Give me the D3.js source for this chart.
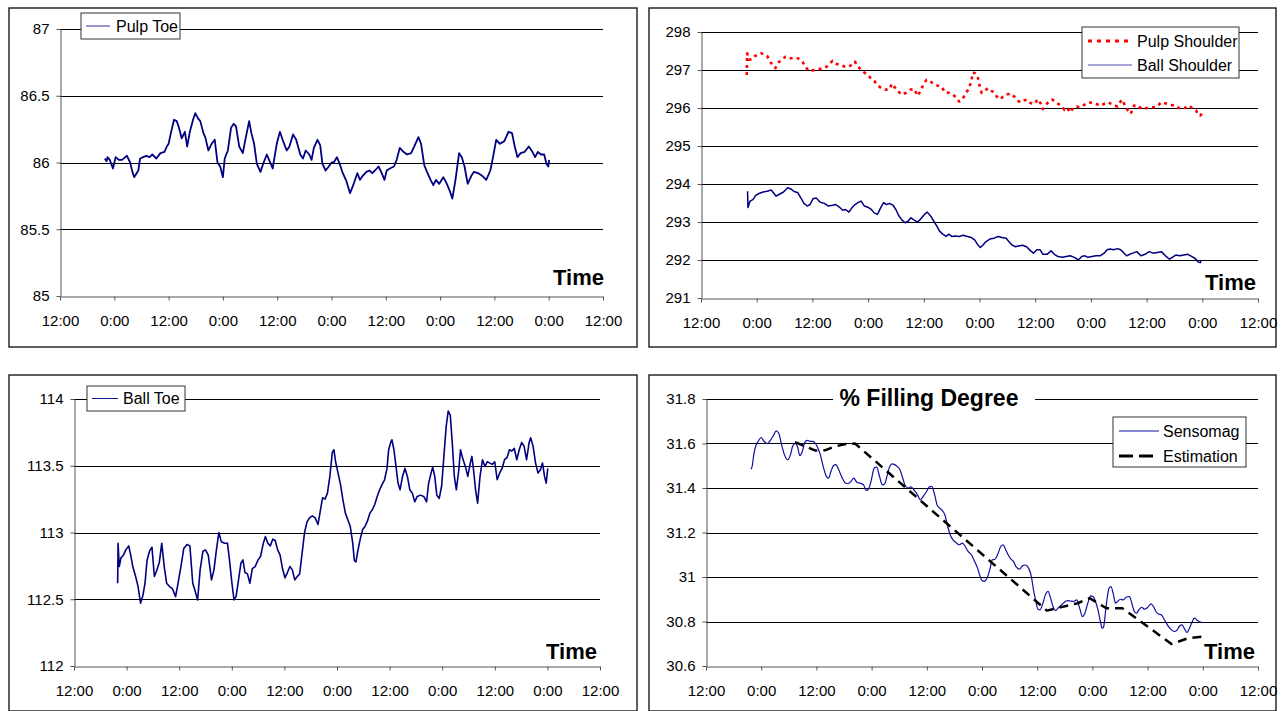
<!DOCTYPE html>
<html>
<head>
<meta charset="utf-8">
<script src="https://cdn.jsdelivr.net/npm/d3@7"></script>
<style>
  html, body { margin: 0; padding: 0; background: #fff; }
  svg { display: block; }
  text { font-family: "Liberation Sans", Arial, sans-serif; fill: #000; }
</style>
</head>
<body>
<svg id="chart" width="1282" height="711"></svg>
<script>
// ---- data: [hours after the first 12:00 mark, value] ----
const pulpToe = [[9.9,86.03],[10.3,86.01],[10.5,86.04],[11.0,86.02],[11.7,85.955],[12.3,86.04],[13.0,86.02],[13.7,86.02],[14.8,86.05],[15.5,86.00],[16.0,85.93],[16.4,85.89],[17.3,85.94],[17.7,86.03],[18.4,86.04],[19.1,86.05],[19.8,86.04],[20.4,86.06],[21.3,86.03],[22.2,86.07],[23.1,86.08],[23.6,86.12],[24.0,86.14],[24.5,86.22],[25.2,86.32],[25.8,86.31],[26.3,86.26],[26.9,86.18],[27.6,86.23],[28.1,86.12],[28.7,86.23],[29.4,86.32],[29.9,86.37],[30.5,86.33],[31.0,86.31],[31.7,86.22],[32.1,86.19],[32.8,86.09],[33.5,86.14],[34.2,86.17],[34.8,86.00],[35.4,85.97],[36.0,85.89],[36.4,86.03],[37.1,86.09],[37.8,86.26],[38.4,86.29],[38.9,86.27],[39.6,86.12],[40.4,86.07],[40.9,86.16],[41.8,86.31],[42.3,86.22],[42.9,86.14],[43.5,85.99],[44.3,85.93],[45.0,86.00],[45.7,86.06],[46.2,86.02],[47.0,85.955],[47.9,86.14],[48.6,86.23],[49.2,86.17],[50.1,86.09],[50.7,86.12],[51.5,86.21],[52.2,86.17],[53.1,86.06],[53.7,86.03],[54.3,86.09],[55.1,86.06],[55.6,86.02],[56.1,86.11],[56.9,86.17],[57.5,86.13],[58.0,85.99],[58.7,85.94],[59.4,85.97],[60.0,86.00],[60.5,86.00],[61.2,86.04],[61.8,85.99],[62.5,85.92],[63.3,85.86],[64.1,85.77],[64.8,85.83],[65.7,85.92],[66.3,85.87],[66.9,85.90],[67.7,85.93],[68.4,85.94],[69.0,85.92],[69.6,85.94],[70.4,85.97],[71.1,85.92],[71.7,85.87],[72.2,85.94],[72.9,85.955],[73.8,85.97],[74.4,86.02],[75.1,86.11],[75.9,86.08],[76.7,86.06],[77.6,86.07],[78.3,86.12],[79.2,86.19],[79.8,86.14],[80.5,85.98],[81.1,85.93],[81.9,85.87],[82.5,85.83],[83.1,85.87],[83.8,85.84],[84.7,85.89],[85.5,85.84],[86.1,85.79],[86.7,85.73],[87.4,85.87],[88.2,86.07],[88.8,86.04],[89.4,85.97],[90.1,85.84],[90.9,85.90],[91.5,85.93],[92.4,85.92],[93.3,85.90],[94.2,85.87],[95.1,85.94],[95.7,86.04],[96.4,86.17],[97.2,86.14],[98.2,86.16],[99.1,86.23],[99.9,86.22],[100.5,86.12],[101.1,86.04],[101.8,86.07],[102.7,86.08],[103.6,86.12],[104.4,86.08],[105.0,86.04],[105.6,86.08],[106.3,86.06],[107.0,86.06],[107.5,85.99],[107.9,85.97],[108.1,86.02]];

const pulpShoulder = [[9.86,296.87],[9.94,297.44],[10.3,297.27],[10.91,297.28],[11.62,297.37],[12.32,297.40],[12.94,297.44],[13.55,297.41],[14.26,297.37],[14.87,297.22],[15.4,297.13],[16.02,297.05],[16.72,297.20],[17.34,297.27],[18.22,297.35],[19.1,297.31],[19.98,297.31],[20.86,297.31],[21.74,297.24],[22.44,297.11],[23.06,296.99],[23.94,296.99],[24.82,297.01],[25.7,297.03],[26.58,297.05],[27.28,297.11],[28.34,297.24],[29.22,297.16],[30.1,297.13],[30.98,297.09],[31.86,297.09],[32.74,297.16],[33.18,297.22],[33.62,297.11],[34.32,297.03],[35.2,296.93],[36.08,296.85],[36.7,296.76],[37.4,296.70],[38.19,296.58],[38.9,296.52],[39.78,296.48],[40.66,296.50],[41.1,296.64],[41.71,296.55],[42.42,296.44],[43.3,296.35],[44.18,296.40],[45.06,296.48],[45.94,296.50],[46.64,296.32],[47.26,296.44],[47.87,296.61],[48.58,296.74],[49.28,296.72],[49.9,296.65],[50.51,296.61],[51.22,296.58],[51.92,296.55],[52.54,296.41],[53.42,296.40],[54.3,296.35],[54.91,296.28],[55.62,296.17],[56.32,296.23],[56.94,296.37],[57.55,296.48],[58.26,296.70],[58.52,296.93],[58.96,296.92],[59.58,296.85],[60.02,296.58],[60.46,296.40],[61.07,296.44],[61.78,296.52],[62.48,296.46],[63.1,296.41],[63.71,296.30],[64.42,296.23],[65.12,296.30],[65.74,296.35],[66.62,296.38],[67.5,296.30],[68.11,296.20],[68.82,296.15],[69.52,296.20],[70.14,296.22],[71.02,296.13],[71.9,296.11],[72.51,296.23],[73.22,296.11],[73.66,295.97],[74.27,296.08],[74.98,296.17],[75.68,296.22],[76.3,296.17],[76.91,296.11],[77.62,296.06],[78.32,295.95],[78.94,296.00],[79.55,295.88],[80.26,296.02],[80.96,296.04],[81.58,296.02],[82.19,296.06],[82.9,296.11],[83.6,296.15],[84.22,296.13],[85.1,296.11],[85.98,296.06],[86.86,296.11],[87.74,296.15],[88.35,296.11],[89.06,296.06],[89.76,296.04],[90.38,296.17],[90.82,296.22],[91.26,296.08],[91.87,295.95],[92.58,295.85],[93.28,296.06],[93.9,296.08],[94.51,296.02],[95.22,295.97],[96.1,296.00],[96.98,296.02],[97.86,296.02],[98.56,296.08],[99.18,296.15],[99.79,296.13],[100.5,296.11],[101.38,296.08],[102.26,296.06],[102.96,296.00],[103.84,296.02],[104.46,296.00],[105.07,296.06],[105.6,296.02],[106.22,295.97],[106.66,295.94],[107.1,295.82],[107.54,295.80],[107.98,295.86]];

const ballShoulder = [[10.03,293.81],[10.12,293.38],[10.56,293.55],[11.18,293.59],[11.79,293.70],[12.49,293.75],[13.37,293.79],[14.25,293.81],[15.13,293.84],[16.19,293.68],[16.9,293.73],[17.78,293.79],[18.66,293.90],[19.36,293.87],[19.98,293.81],[20.86,293.77],[21.47,293.64],[22.18,293.49],[22.88,293.42],[23.5,293.46],[24.11,293.61],[24.82,293.63],[25.7,293.52],[26.58,293.49],[27.46,293.42],[28.34,293.44],[29.04,293.46],[29.92,293.38],[30.54,293.31],[31.15,293.33],[31.86,293.26],[32.56,293.38],[33.18,293.46],[33.79,293.51],[34.5,293.55],[35.2,293.42],[36.08,293.38],[36.7,293.33],[37.31,293.24],[38.02,293.20],[38.72,293.38],[39.34,293.51],[39.95,293.46],[40.66,293.49],[41.36,293.44],[41.98,293.33],[42.59,293.17],[43.3,293.05],[44.0,292.98],[44.62,293.02],[45.23,293.11],[45.94,293.05],[46.64,293.00],[47.26,293.07],[48.14,293.20],[48.75,293.26],[49.46,293.16],[50.16,293.02],[50.78,292.90],[51.39,292.76],[52.1,292.68],[52.8,292.62],[53.42,292.68],[54.03,292.62],[54.74,292.63],[55.62,292.62],[56.5,292.65],[57.38,292.62],[58.26,292.59],[58.96,292.53],[59.58,292.41],[60.19,292.33],[60.72,292.39],[61.34,292.48],[62.22,292.55],[63.1,292.57],[63.98,292.62],[64.86,292.59],[65.74,292.57],[66.35,292.48],[67.06,292.39],[67.76,292.35],[68.38,292.37],[69.26,292.39],[70.14,292.35],[71.02,292.24],[71.63,292.18],[72.34,292.27],[73.04,292.27],[73.66,292.15],[74.54,292.15],[75.42,292.24],[76.12,292.15],[76.91,292.09],[77.79,292.07],[78.67,292.09],[79.55,292.11],[80.43,292.07],[81.31,292.00],[82.02,292.09],[82.72,292.11],[83.34,292.07],[84.22,292.09],[85.1,292.11],[85.98,292.11],[86.86,292.18],[87.47,292.27],[88.18,292.29],[88.88,292.27],[89.76,292.30],[90.38,292.27],[90.99,292.20],[91.7,292.11],[92.4,292.15],[93.02,292.18],[93.9,292.22],[94.78,292.11],[95.66,292.15],[96.54,292.22],[97.42,292.18],[98.3,292.20],[99.18,292.22],[100.06,292.11],[100.94,292.02],[101.55,292.07],[102.26,292.13],[103.14,292.11],[104.02,292.13],[104.9,292.15],[105.78,292.09],[106.48,292.04],[107.1,291.95],[107.54,291.93],[107.8,292.00]];

const ballToe = [[9.96,112.62],[10.05,112.92],[10.33,112.745],[10.71,112.81],[11.27,112.83],[11.82,112.87],[12.48,112.90],[12.94,112.83],[13.41,112.745],[14.06,112.67],[14.62,112.595],[15.18,112.47],[15.73,112.53],[16.2,112.62],[16.66,112.79],[17.22,112.86],[17.78,112.89],[18.34,112.67],[18.81,112.71],[19.46,112.775],[20.02,112.92],[20.58,112.745],[21.13,112.62],[21.79,112.595],[22.44,112.58],[23.18,112.52],[23.74,112.62],[24.39,112.745],[25.04,112.88],[25.79,112.91],[26.44,112.90],[27.09,112.62],[27.65,112.56],[28.21,112.495],[28.77,112.72],[29.42,112.86],[29.98,112.87],[30.63,112.83],[31.37,112.645],[31.93,112.72],[32.49,112.87],[33.05,113.00],[33.61,112.93],[34.35,112.92],[35.01,112.92],[35.47,112.795],[36.03,112.62],[36.5,112.495],[36.96,112.52],[37.43,112.62],[38.08,112.77],[38.54,112.795],[39.01,112.70],[39.57,112.69],[40.13,112.62],[40.68,112.73],[41.34,112.745],[41.99,112.795],[42.55,112.82],[43.2,112.92],[43.67,112.97],[44.22,112.92],[44.78,112.90],[45.34,112.95],[45.9,112.94],[46.46,112.87],[47.02,112.83],[47.57,112.73],[48.13,112.66],[48.69,112.70],[49.25,112.745],[49.81,112.72],[50.37,112.645],[50.93,112.67],[51.48,112.69],[52.04,112.845],[52.6,113.00],[53.16,113.08],[53.72,113.11],[54.37,113.125],[55.02,113.11],[55.67,113.06],[56.23,113.17],[56.7,113.26],[57.26,113.25],[57.82,113.295],[58.37,113.42],[58.93,113.60],[59.3,113.62],[59.68,113.53],[60.24,113.445],[60.79,113.36],[61.35,113.245],[61.91,113.145],[62.47,113.095],[63.03,113.045],[63.59,112.92],[63.96,112.79],[64.33,112.78],[64.7,112.855],[65.26,112.945],[65.82,113.02],[66.38,113.045],[66.94,113.085],[67.5,113.145],[68.06,113.17],[68.61,113.21],[69.17,113.27],[69.73,113.32],[70.29,113.36],[70.85,113.395],[71.41,113.48],[71.78,113.62],[72.25,113.675],[72.52,113.695],[72.99,113.62],[73.46,113.495],[73.92,113.37],[74.39,113.32],[74.95,113.42],[75.5,113.48],[76.06,113.42],[76.62,113.32],[77.18,113.295],[77.74,113.23],[78.3,113.27],[79.04,113.28],[79.79,113.27],[80.44,113.23],[80.9,113.37],[81.46,113.445],[81.83,113.49],[82.3,113.42],[82.77,113.28],[83.32,113.255],[83.88,113.35],[84.44,113.595],[84.91,113.795],[85.37,113.91],[85.84,113.88],[86.3,113.67],[86.77,113.42],[87.23,113.32],[87.79,113.47],[88.17,113.62],[88.72,113.55],[89.28,113.495],[89.84,113.42],[90.4,113.52],[90.77,113.57],[91.15,113.47],[91.61,113.32],[92.08,113.22],[92.63,113.42],[93.19,113.545],[93.75,113.495],[94.31,113.53],[94.87,113.52],[95.43,113.51],[95.99,113.53],[96.54,113.395],[97.1,113.445],[97.66,113.48],[98.22,113.545],[98.78,113.56],[99.34,113.62],[99.9,113.61],[100.45,113.63],[101.01,113.545],[101.57,113.62],[102.13,113.675],[102.69,113.645],[103.25,113.545],[103.81,113.67],[104.18,113.71],[104.74,113.645],[105.3,113.52],[105.86,113.445],[106.41,113.47],[106.88,113.52],[107.35,113.42],[107.72,113.37],[108.09,113.48]];

const sensomag = [[9.76,31.485],[10.03,31.497],[10.39,31.55],[10.83,31.59],[11.36,31.61],[11.98,31.627],[12.6,31.61],[13.31,31.60],[14.02,31.615],[14.64,31.635],[15.27,31.657],[15.8,31.647],[16.42,31.595],[17.04,31.55],[17.75,31.527],[18.37,31.55],[18.82,31.587],[19.35,31.60],[19.88,31.587],[20.41,31.545],[20.95,31.565],[21.48,31.605],[22.01,31.614],[22.63,31.61],[23.26,31.61],[23.79,31.60],[24.32,31.58],[24.85,31.55],[25.47,31.497],[26.01,31.46],[26.63,31.444],[27.16,31.474],[27.69,31.50],[28.23,31.505],[28.85,31.482],[29.47,31.452],[30.18,31.425],[30.89,31.419],[31.51,31.43],[32.13,31.444],[32.84,31.425],[33.55,31.422],[34.26,31.414],[34.79,31.389],[35.33,31.395],[35.95,31.437],[36.57,31.49],[37.1,31.494],[37.72,31.452],[38.34,31.414],[38.88,31.42],[39.5,31.467],[39.94,31.497],[40.47,31.508],[41.01,31.505],[41.54,31.497],[42.16,31.482],[42.78,31.444],[43.31,31.41],[43.94,31.40],[44.56,31.405],[45.27,31.39],[45.98,31.369],[46.6,31.347],[47.22,31.362],[47.93,31.384],[48.55,31.405],[49.08,31.407],[49.71,31.369],[50.24,31.324],[50.77,31.31],[51.3,31.30],[51.92,31.28],[52.55,31.227],[53.08,31.19],[53.7,31.167],[54.32,31.155],[55.03,31.145],[55.74,31.152],[56.36,31.137],[56.98,31.115],[57.69,31.10],[58.4,31.07],[59.03,31.04],[59.47,31.01],[60.0,30.984],[60.53,30.98],[61.07,30.994],[61.69,31.032],[62.22,31.077],[62.84,31.08],[63.46,31.104],[64.08,31.137],[64.62,31.145],[65.15,31.122],[65.68,31.10],[66.3,31.08],[66.84,31.07],[67.46,31.044],[68.17,31.035],[68.79,31.05],[69.41,31.054],[70.12,31.04],[70.74,31.002],[71.19,30.942],[71.72,30.89],[72.16,30.855],[72.6,30.852],[73.23,30.882],[73.85,30.924],[74.38,30.935],[74.91,30.905],[75.45,30.867],[75.98,30.849],[76.51,30.86],[77.22,30.873],[77.84,30.885],[78.55,30.894],[79.17,30.892],[79.88,30.89],[80.59,30.897],[81.22,30.86],[81.84,30.822],[82.37,30.837],[82.99,30.882],[83.61,30.915],[84.14,30.912],[84.68,30.89],[85.21,30.852],[85.74,30.80],[86.1,30.77],[86.45,30.777],[86.81,30.837],[87.16,30.897],[87.61,30.95],[88.05,30.957],[88.58,30.92],[89.03,30.882],[89.47,30.89],[90.09,30.90],[90.71,30.897],[91.42,30.91],[92.04,30.912],[92.58,30.882],[93.02,30.849],[93.55,30.837],[94.09,30.852],[94.71,30.864],[95.33,30.855],[96.04,30.864],[96.75,30.879],[97.28,30.867],[97.81,30.845],[98.35,30.834],[98.97,30.83],[99.59,30.81],[100.3,30.785],[100.83,30.77],[101.36,30.759],[101.9,30.755],[102.43,30.762],[102.96,30.78],[103.49,30.785],[104.03,30.767],[104.56,30.75],[105.09,30.77],[105.62,30.795],[106.16,30.815],[106.69,30.807],[107.22,30.80],[107.75,30.795]];

const estimation = [[19.35,31.606],[23.8,31.568],[26.0,31.570],[27.8,31.585],[30.1,31.597],[32.4,31.600],[74.1,30.849],[80.8,30.882],[83.4,30.905],[87.0,30.860],[90.5,30.860],[101.2,30.699],[104.7,30.724],[107.8,30.732]];

// axis tick values
const timeTickHours = [0, 12, 24, 36, 48, 60, 72, 84, 96, 108, 120];
const pulpToeTicks = [85, 85.5, 86, 86.5, 87];
const shoulderTicks = [291, 292, 293, 294, 295, 296, 297, 298];
const ballToeTicks = [112, 112.5, 113, 113.5, 114];
const fillingTicks = [30.6, 30.8, 31, 31.2, 31.4, 31.6, 31.8];

// ---- drawing ----
const svg = d3.select("#chart");
const origin = new Date(2004, 0, 1, 12, 0, 0);
const toDate = h => new Date(origin.getTime() + h * 3600e3);
const fmtTime = d3.timeFormat("%-H:%M");

function drawPanel(p) {
  const g = svg.append("g");
  // frame
  g.append("rect")
    .attr("x", p.box[0]).attr("y", p.box[1])
    .attr("width", p.box[2] - p.box[0]).attr("height", p.box[3] - p.box[1])
    .attr("fill", "#fff").attr("stroke", "#1a1a1a").attr("stroke-width", 1.4);

  const x = d3.scaleTime().domain([toDate(0), toDate(120)]).range([p.left, p.right]);
  const y = d3.scaleLinear().domain(p.yDomain).range([p.bottom, p.top]);

  // horizontal gridlines
  g.append("g").selectAll("line").data(p.yTicks.slice(1)).join("line")
    .attr("x1", p.left).attr("x2", p.right)
    .attr("y1", d => Math.round(y(d)) + 0.5).attr("y2", d => Math.round(y(d)) + 0.5)
    .attr("stroke", "#000").attr("stroke-width", 1);

  // axes
  const ax = g.append("g").attr("transform", `translate(0,${Math.round(p.bottom) + 0.5})`)
    .call(d3.axisBottom(x).tickValues(timeTickHours.map(toDate)).tickFormat(fmtTime)
      .tickSizeInner(4).tickSizeOuter(0).tickPadding(15));
  const ay = g.append("g").attr("transform", `translate(${Math.round(p.left) + 0.5},0)`)
    .call(d3.axisLeft(y).tickValues(p.yTicks).tickFormat(d => String(d))
      .tickSizeInner(4).tickSizeOuter(0).tickPadding(7));
  [ax, ay].forEach(a => {
    a.select(".domain").attr("stroke", "#555");
    a.selectAll(".tick line").attr("stroke", "#555");
    a.selectAll("text").attr("font-size", 15).attr("fill", "#000")
      .style("font-family", '"Liberation Sans", Arial, sans-serif');
  });

  // optional title that interrupts the top gridline
  if (p.title) {
    g.append("rect").attr("x", p.title.gap[0]).attr("y", p.top - 12)
      .attr("width", p.title.gap[1] - p.title.gap[0]).attr("height", 24).attr("fill", "#fff");
    g.append("text").attr("x", p.title.x).attr("y", p.title.y)
      .attr("text-anchor", "middle").attr("font-size", 23).attr("font-weight", "bold")
      .text(p.title.text);
  }

  // series
  p.series.forEach(s => {
    const line = d3.line().x(d => x(toDate(d[0]))).y(d => y(d[1]));
    if (s.curve) line.curve(s.curve);
    g.append("path").datum(s.data).attr("d", line)
      .attr("fill", "none").attr("stroke", s.color).attr("stroke-width", s.width)
      .attr("stroke-dasharray", s.dash || null).attr("stroke-linejoin", "round");
  });

  // axis caption
  g.append("text").attr("x", p.time[0]).attr("y", p.time[1])
    .attr("text-anchor", "end").attr("font-size", 22).attr("font-weight", "bold").text("Time");

  // legend
  const L = p.legend;
  g.append("rect").attr("x", L.x).attr("y", L.y).attr("width", L.w).attr("height", L.h)
    .attr("fill", "#fff").attr("stroke", "#333").attr("stroke-width", 1);
  p.series.forEach((s, i) => {
    const cy = L.y + L.first + i * L.step;
    g.append("line").attr("x1", L.x + L.lineX[0]).attr("x2", L.x + L.lineX[1])
      .attr("y1", cy).attr("y2", cy)
      .attr("stroke", s.legendColor || s.color).attr("stroke-width", s.legendWidth || s.width)
      .attr("stroke-dasharray", s.legendDash || s.dash || null);
    g.append("text").attr("x", L.x + L.textX).attr("y", cy + 5.5)
      .attr("font-size", 16).text(s.name);
  });
}

drawPanel({
  box: [9, 8, 637, 347], left: 60, right: 603, top: 29, bottom: 296,
  yDomain: [85, 87], yTicks: pulpToeTicks, time: [604, 285],
  legend: { x: 81, y: 13, w: 99, h: 26, first: 13, step: 0, lineX: [5, 29], textX: 35 },
  series: [{ name: "Pulp Toe", data: pulpToe, color: "#000080", width: 1.8, legendColor: "#3333a0", legendWidth: 1 }]
});

drawPanel({
  box: [649, 8, 1276, 347], left: 701, right: 1258, top: 32, bottom: 298,
  yDomain: [291, 298], yTicks: shoulderTicks, time: [1256, 290],
  legend: { x: 1082, y: 27, w: 157, h: 51, first: 14, step: 24, lineX: [6, 50], textX: 55 },
  series: [
    { name: "Pulp Shoulder", data: pulpShoulder, color: "#ff0000", width: 2.6, dash: "3,4", legendDash: "4,5", legendWidth: 3 },
    { name: "Ball Shoulder", data: ballShoulder, color: "#000080", width: 1.5, legendColor: "#4a4ab0", legendWidth: 1 }
  ]
});

drawPanel({
  box: [9, 375, 637, 711], left: 74, right: 600, top: 399, bottom: 666,
  yDomain: [112, 114], yTicks: ballToeTicks, time: [597, 659],
  legend: { x: 87, y: 386, w: 98, h: 25, first: 12.5, step: 0, lineX: [5, 31], textX: 36 },
  series: [{ name: "Ball Toe", data: ballToe, color: "#000080", width: 1.6, legendColor: "#1a1a90", legendWidth: 1 }]
});

drawPanel({
  box: [649, 375, 1276, 711], left: 706, right: 1258, top: 399, bottom: 666,
  yDomain: [30.6, 31.8], yTicks: fillingTicks, time: [1255, 659],
  title: { text: "% Filling Degree", x: 929, y: 406, gap: [833, 1035] },
  legend: { x: 1113, y: 417, w: 133, h: 50, first: 14, step: 25, lineX: [6, 46], textX: 50 },
  series: [
    { name: "Sensomag", data: sensomag, color: "#1010a0", width: 1.2, curve: d3.curveMonotoneX },
    { name: "Estimation", data: estimation, color: "#000", width: 2.5, dash: "9,6", legendDash: "14,6", legendWidth: 3 }
  ]
});
</script>
</body>
</html>
